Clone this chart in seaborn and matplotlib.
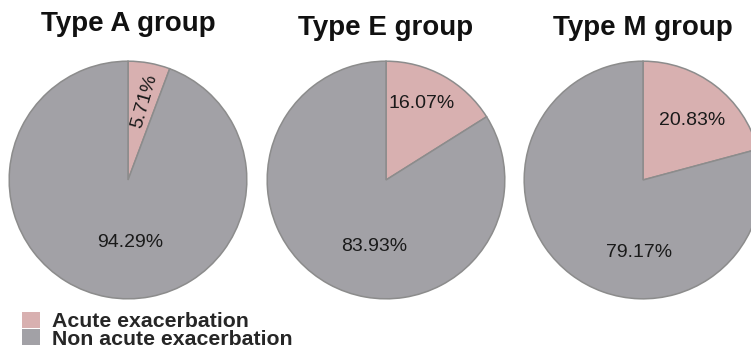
import matplotlib
matplotlib.use("Agg")
import matplotlib.pyplot as plt
from matplotlib.patches import Patch
import seaborn as sns

# Share of patients with / without acute exacerbation in each group
groups = ["Type A group", "Type E group", "Type M group"]
categories = ["Acute exacerbation", "Non acute exacerbation"]
acute_pct = [5.71, 16.07, 20.83]
non_acute_pct = [94.29, 83.93, 79.17]

colors = ["#d8b0b0", "#a2a1a6"]
edge = "#8c8c8c"

# label anchor points inside each unit-radius pie (acute, non acute)
label_pos = [
    [(0.14, 0.66), (0.02, -0.53)],
    [(0.30, 0.64), (-0.10, -0.56)],
    [(0.41, 0.50), (-0.03, -0.61)],
]
label_rot = [[74, 0], [0, 0], [0, 0]]
title_pad = [21, 18, 18]

sns.set_theme(style="white")
plt.rcParams["font.family"] = ["Liberation Sans", "DejaVu Sans"]

W, H = 751, 349
fig = plt.figure(figsize=(W / 100, H / 100), dpi=100)

centers_x = [128, 386, 643]
center_y = 180
r_px = 120

for i, g in enumerate(groups):
    ax = fig.add_axes([(centers_x[i] - r_px) / W, (H - center_y - r_px) / H,
                       2 * r_px / W, 2 * r_px / H])
    wedges, texts, autotexts = ax.pie(
        [acute_pct[i], non_acute_pct[i]],
        colors=colors,
        startangle=90,
        counterclock=False,
        radius=1.0,
        autopct="%.2f%%",
        wedgeprops=dict(edgecolor=edge, linewidth=1.1),
        textprops=dict(fontsize=14, color="#1a1a1a"),
    )
    for j, t in enumerate(autotexts):
        t.set_position(label_pos[i][j])
        t.set_rotation(label_rot[i][j])
        t.set_ha("center")
        t.set_va("center")
    ax.set_xlim(-1.01, 1.01)
    ax.set_ylim(-1.01, 1.01)
    ax.set_aspect("equal")
    ax.axis("off")
    ax.set_title(g, fontsize=20, fontweight="bold", pad=title_pad[i],
                 color="#111111")

handles = [Patch(facecolor=c, edgecolor="none") for c in colors]
fig.legend(handles, categories, loc="upper left",
           bbox_to_anchor=(18 / W, 1 - 308 / H), frameon=False,
           prop=dict(size=15.3, weight="bold"),
           handlelength=0.85, handleheight=0.75, handletextpad=0.55,
           labelspacing=-0.1, borderpad=0.2, borderaxespad=0.0)

fig.savefig("out.png", dpi=100)
